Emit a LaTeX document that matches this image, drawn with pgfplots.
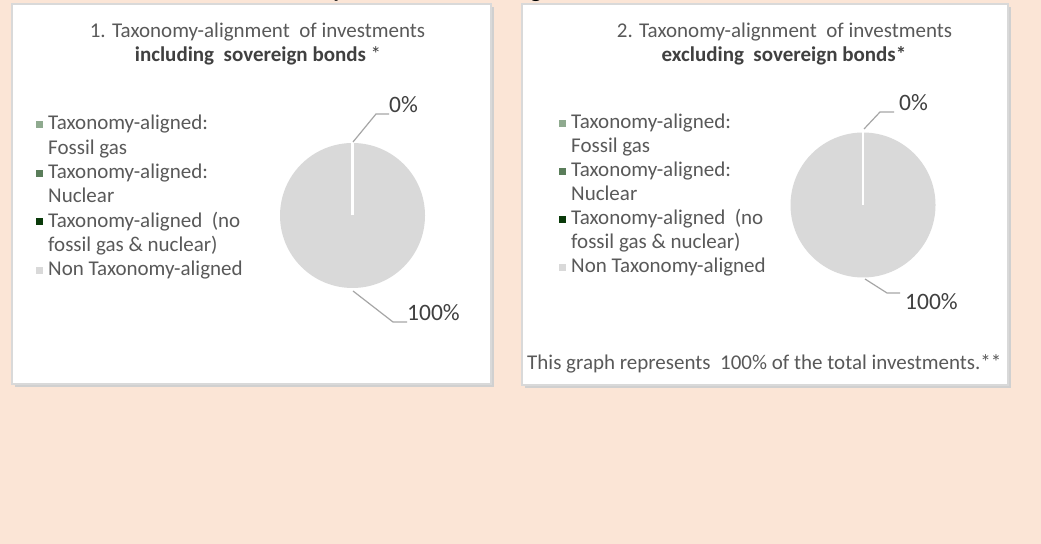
\documentclass[border=0pt]{standalone}
\usepackage{pgfplots}
\pgfplotsset{compat=1.18}
\usepackage{pgfplotstable}
\usepackage{fontspec}
\setmainfont{Carlito}
\definecolor{bg}{HTML}{FBE5D6}
\definecolor{txt}{HTML}{595959}
\definecolor{dtxt}{HTML}{404040}
\definecolor{bord}{HTML}{D9D9D9}
\definecolor{shad}{HTML}{D0D0D0}
\definecolor{lead}{HTML}{A6A6A6}
\definecolor{cfossil}{HTML}{8FAA8F}
\definecolor{cnuc}{HTML}{5A7D5A}
\definecolor{cgreen}{HTML}{0A3A0A}
\definecolor{cnon}{HTML}{D9D9D9}

% shares in percent: fossil gas, nuclear, aligned (no gas & nuclear), non aligned
\pgfplotstableread{
share
0
0
0
100
}\inclsov
\pgfplotstableread{
share
0
0
0
100
}\exclsov

\newcommand{\getshares}[1]{%
  \pgfplotstablegetelem{0}{share}\of#1\edef\sA{\pgfplotsretval}%
  \pgfplotstablegetelem{1}{share}\of#1\edef\sB{\pgfplotsretval}%
  \pgfplotstablegetelem{2}{share}\of#1\edef\sC{\pgfplotsretval}%
  \pgfplotstablegetelem{3}{share}\of#1\edef\sD{\pgfplotsretval}%
  \pgfmathsetmacro\aA{90}%
  \pgfmathsetmacro\aB{\aA-3.6*\sA}%
  \pgfmathsetmacro\aC{\aB-3.6*\sB}%
  \pgfmathsetmacro\aD{\aC-3.6*\sC}%
  \pgfmathsetmacro\aE{\aD-3.6*\sD}%
}

\newcommand{\pieslice}[3]{% color, start, end
  \ifdim #2pt=#3pt\else
  \fill[#1] (axis cs:0,0) -- ++(#2:72.5bp) arc[start angle=#2, end angle=#3, radius=72.5bp] -- cycle;
  \fi
}

\newcommand{\fs}{\fontsize{21bp}{25bp}\selectfont}

\begin{document}
\begin{tikzpicture}[x=1bp,y=1bp]
\useasboundingbox (0,0) rectangle (1041,544);
\fill[bg] (0,0) rectangle (1041,544);

% cut-off heading above the panels
\node[anchor=base, font=\bfseries\fontsize{24bp}{28bp}\selectfont, text=black, inner sep=0pt] at (338,546) {y};
\node[anchor=base, font=\bfseries\fontsize{24bp}{28bp}\selectfont, text=black, inner sep=0pt] at (536,546) {g};

% panels
\fill[shad] (15,537) rectangle (494,157);
\filldraw[fill=white, draw=bord, line width=1.2bp] (12,540) rectangle (491,160);
\fill[shad] (525,537) rectangle (1011,156);
\filldraw[fill=white, draw=bord, line width=1.2bp] (522,540) rectangle (1008,159);

% titles
\node[text=txt, font=\fs, anchor=base, inner sep=0pt] at (257.5,506) {1. Taxonomy-alignment\ \ of investments};
\node[text=dtxt, font=\fs, anchor=base, inner sep=0pt] at (258,482) {\textbf{including\ \ sovereign bonds} *};
\node[text=txt, font=\fs, anchor=base, inner sep=0pt] at (784.5,506) {2. Taxonomy-alignment\ \ of investments};
\node[text=dtxt, font=\fs, anchor=base, inner sep=0pt] at (784,482) {\textbf{excluding\ \ sovereign bonds*}};

% legends
\foreach \lx/\ly/\dy in {48/414/24.3, 571/415/24}{
  \begin{scope}[every node/.style={text=txt, font=\fs, anchor=base west, inner sep=0pt}]
    \node at (\lx,\ly) {Taxonomy-aligned:};
    \node at (\lx,\ly-\dy) {Fossil gas};
    \node at (\lx,\ly-2*\dy) {Taxonomy-aligned:};
    \node at (\lx,\ly-3*\dy) {Nuclear};
    \node at (\lx,\ly-4*\dy) {Taxonomy-aligned\ \ (no};
    \node at (\lx,\ly-5*\dy) {fossil gas \& nuclear)};
    \node at (\lx,\ly-6*\dy) {Non Taxonomy-aligned};
  \end{scope}
  \fill[cfossil] (\lx-12.5,\ly+2) rectangle ++(7,7);
  \fill[cnuc] (\lx-12.5,\ly-2*\dy+2) rectangle ++(7,7);
  \fill[cgreen] (\lx-12.5,\ly-4*\dy+2) rectangle ++(7,7);
  \fill[cnon] (\lx-12.5,\ly-6*\dy+2) rectangle ++(7,7);
}

% pie 1
\getshares{\inclsov}
\begin{axis}[at={(352.5bp,328.5bp)}, anchor=center, width=145bp, height=145bp,
  scale only axis, xmin=-1, xmax=1, ymin=-1, ymax=1, hide axis, clip=false]
  \addplot[draw=none] coordinates {(0,0)};
  \pieslice{cfossil}{\aA}{\aB}
  \pieslice{cnuc}{\aB}{\aC}
  \pieslice{cgreen}{\aC}{\aD}
  \pieslice{cnon}{\aD}{\aE}
  \draw[white, line width=2.2bp] (axis cs:0,0) -- ++(\aA:73bp);
  \draw[white, line width=2.2bp] (axis cs:0,0) -- ++(\aD:73bp);
\end{axis}

% pie 2
\getshares{\exclsov}
\begin{axis}[at={(863bp,339bp)}, anchor=center, width=145bp, height=145bp,
  scale only axis, xmin=-1, xmax=1, ymin=-1, ymax=1, hide axis, clip=false]
  \addplot[draw=none] coordinates {(0,0)};
  \pieslice{cfossil}{\aA}{\aB}
  \pieslice{cnuc}{\aB}{\aC}
  \pieslice{cgreen}{\aC}{\aD}
  \pieslice{cnon}{\aD}{\aE}
  \draw[white, line width=2.2bp] (axis cs:0,0) -- ++(\aA:73bp);
  \draw[white, line width=2.2bp] (axis cs:0,0) -- ++(\aD:73bp);
\end{axis}

% leader lines and data labels
\draw[lead, line width=1.2bp] (353,402) -- (376,430) -- (389,430);
\draw[lead, line width=1.2bp] (353,253) -- (393,222) -- (407,222);
\draw[lead, line width=1.2bp] (864,415) -- (880,432) -- (894,432);
\draw[lead, line width=1.2bp] (865,265) -- (887,251) -- (900,251);
\begin{scope}[every node/.style={text=dtxt, font=\fontsize{23.5bp}{28bp}\selectfont, anchor=base west, inner sep=0pt}]
  \node at (389,431) {0\%};
  \node at (407,223) {100\%};
  \node at (899,433) {0\%};
  \node at (905,234) {100\%};
\end{scope}

% footnote
\node[text=txt, font=\fs, anchor=base west, inner sep=0pt] at (527,174) {This graph represents\ \ 100\% of the total investments.**};
\end{tikzpicture}
\end{document}
